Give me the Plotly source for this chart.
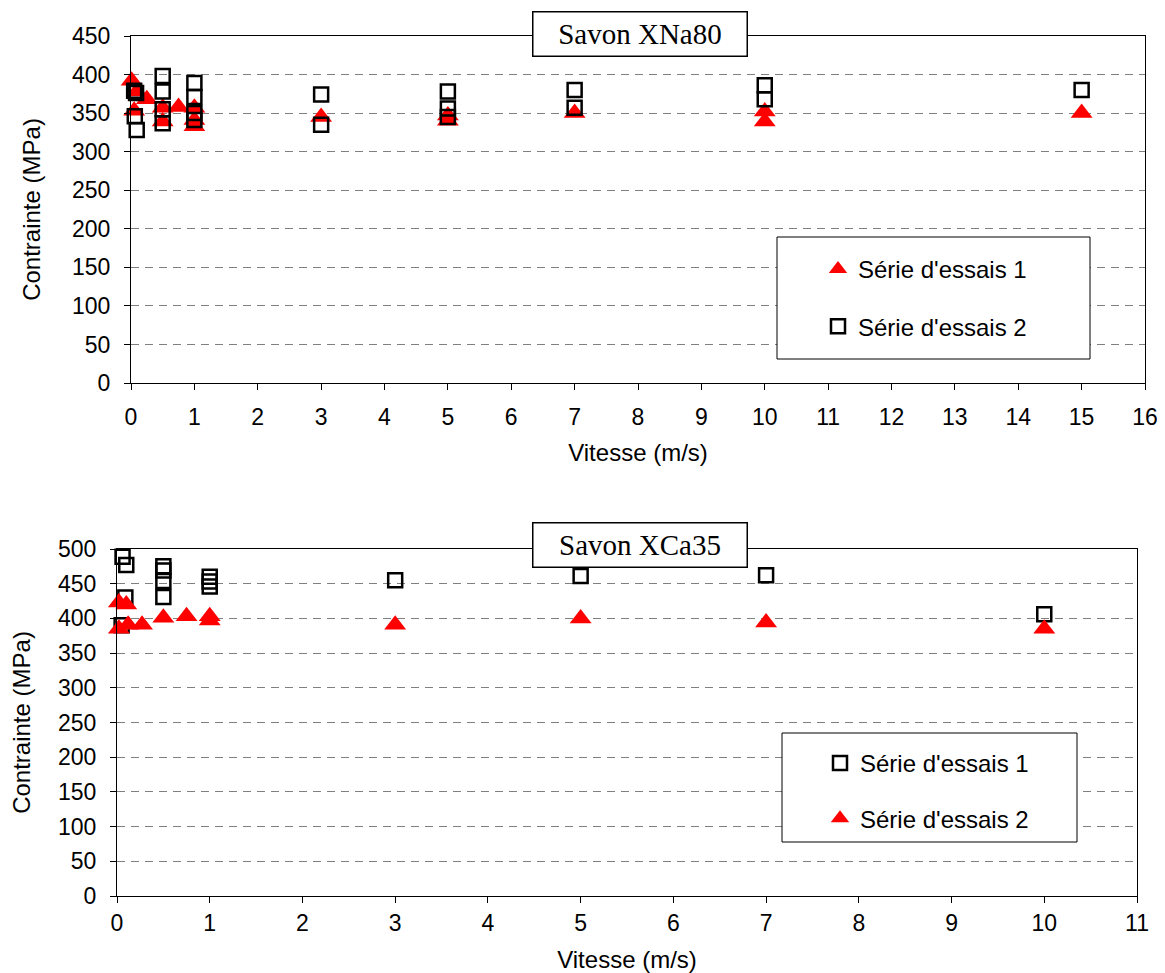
import plotly.graph_objects as go

# ---------------- Data: Savon XNa80 (top chart) ----------------
na_s1_x = [0.01, 0.09, 0.05, 0.25, 0.5, 0.5, 0.75, 1, 1, 1, 3, 5, 5, 7, 10, 10, 15]
na_s1_y = [392, 378, 353, 368, 357, 339, 358, 357, 341, 333, 345, 347, 340, 350, 352, 339, 350]

na_s2_x = [0.05, 0.08, 0.06, 0.09, 0.5, 0.5, 0.5, 0.5, 1, 1, 1, 1, 3, 3, 5, 5, 5, 7, 7, 10, 10, 15]
na_s2_y = [379, 376, 346, 328, 398, 378, 355, 337, 389, 371, 350, 341, 374, 335, 378, 356, 345, 380, 357, 386, 368, 380]

# ---------------- Data: Savon XCa35 (bottom chart) ----------------
ca_s1_x = [0.06, 0.1, 0.09, 0.05, 0.5, 0.5, 0.5, 0.5, 1, 1, 1, 3, 5, 7, 10]
ca_s1_y = [489, 477, 430, 390, 475, 469, 454, 431, 460, 453, 446, 455, 461, 462, 406]

ca_s2_x = [0.02, 0.1, 0.02, 0.12, 0.27, 0.5, 0.75, 1, 1, 3, 5, 7, 10]
ca_s2_y = [423, 420, 385, 391, 391, 401, 403, 403, 397, 391, 400, 394, 385]

top_title = "Savon XNa80"
bottom_title = "Savon XCa35"
x_title = "Vitesse (m/s)"
y_title = "Contrainte (MPa)"
legend_names = ["Série d'essais 1", "Série d'essais 2"]

# The page body has an 8px margin, so the figure is drawn offset by 8px.
OFF = 8
W, H = 1165 - OFF, 973 - OFF
FONT = "Arial, 'Liberation Sans', sans-serif"
SERIF = "'Times New Roman', 'Liberation Serif', serif"
RED = "#ff0000"

def px(x):
    return (x - OFF) / W

def py(y):
    return 1 - (y - OFF) / H

tri = dict(symbol="triangle-up", size=19, color=RED, line=dict(width=0))
sq = dict(symbol="square-open", size=14, color="black", line=dict(width=2.5, color="black"))

fig = go.Figure()
fig.add_trace(go.Scatter(x=na_s1_x, y=na_s1_y, mode="markers", name=legend_names[0],
                         marker=tri, xaxis="x", yaxis="y", cliponaxis=False,
                         legend="legend", legendgroup="a1"))
fig.add_trace(go.Scatter(x=na_s2_x, y=na_s2_y, mode="markers", name=legend_names[1],
                         marker=sq, xaxis="x", yaxis="y", cliponaxis=False,
                         legend="legend", legendgroup="a2"))
fig.add_trace(go.Scatter(x=ca_s1_x, y=ca_s1_y, mode="markers", name=legend_names[0],
                         marker=sq, xaxis="x2", yaxis="y2", cliponaxis=False,
                         legend="legend2", legendgroup="b1"))
fig.add_trace(go.Scatter(x=ca_s2_x, y=ca_s2_y, mode="markers", name=legend_names[1],
                         marker=tri, xaxis="x2", yaxis="y2", cliponaxis=False,
                         legend="legend2", legendgroup="b2"))

axis_common = dict(
    showline=True, linecolor="black", linewidth=1, mirror=True,
    ticks="outside", ticklen=6, tickcolor="black", tickwidth=1,
    tickfont=dict(family=FONT, size=23, color="black"),
    zeroline=False, automargin=False,
)
grid = dict(showgrid=True, gridcolor="#808080", gridwidth=1, griddash="8px,6px")
title_font = dict(family=FONT, size=24, color="black")

fig.update_layout(
    width=W, height=H,
    margin=dict(l=0, r=0, t=0, b=0, autoexpand=False),
    paper_bgcolor="white", plot_bgcolor="white",
    showlegend=True,
    xaxis=dict(domain=[px(131), px(1145)], range=[0, 16], dtick=1, anchor="y",
               showgrid=False, ticklabelstandoff=7,
               title=dict(text=x_title, font=title_font, standoff=15),
               **axis_common),
    yaxis=dict(domain=[py(383), py(36)], range=[0, 450], dtick=50, anchor="x",
               ticklabelstandoff=9,
               title=dict(text=y_title, font=title_font, standoff=24),
               **grid, **axis_common),
    xaxis2=dict(domain=[px(117), px(1137)], range=[0, 11], dtick=1, anchor="y2",
                showgrid=False, ticklabelstandoff=0,
                title=dict(text=x_title, font=title_font, standoff=20),
                **axis_common),
    yaxis2=dict(domain=[py(896), py(549)], range=[0, 500], dtick=50, anchor="x2",
                ticklabelstandoff=9,
                title=dict(text=y_title, font=title_font, standoff=24),
                **grid, **axis_common),
    legend=dict(x=px(818), y=py(247), xanchor="left", yanchor="top",
                bgcolor="rgba(0,0,0,0)", borderwidth=0, traceorder="grouped",
                tracegroupgap=23, font=dict(family=FONT, size=24, color="black")),
    legend2=dict(x=px(820), y=py(741), xanchor="left", yanchor="top",
                 bgcolor="rgba(0,0,0,0)", borderwidth=0, traceorder="grouped",
                 tracegroupgap=21, font=dict(family=FONT, size=24, color="black")),
    shapes=[
        dict(type="rect", xref="paper", yref="paper", x0=px(777), x1=px(1090), y0=py(359), y1=py(237),
             line=dict(color="black", width=1), fillcolor="white", layer="above"),
        dict(type="rect", xref="paper", yref="paper", x0=px(782), x1=px(1077), y0=py(842), y1=py(733),
             line=dict(color="black", width=1), fillcolor="white", layer="above"),
    ],
    annotations=[
        dict(text=top_title, xref="paper", yref="paper", x=px(640), y=py(34),
             xanchor="center", yanchor="middle", showarrow=False,
             font=dict(family=SERIF, size=29, color="black"),
             bgcolor="white", bordercolor="black", borderwidth=1.5, borderpad=0,
             width=213, height=43),
        dict(text=bottom_title, xref="paper", yref="paper", x=px(640), y=py(545),
             xanchor="center", yanchor="middle", showarrow=False,
             font=dict(family=SERIF, size=29, color="black"),
             bgcolor="white", bordercolor="black", borderwidth=1.5, borderpad=0,
             width=213, height=43),
    ],
)

fig.write_html("out.html")
